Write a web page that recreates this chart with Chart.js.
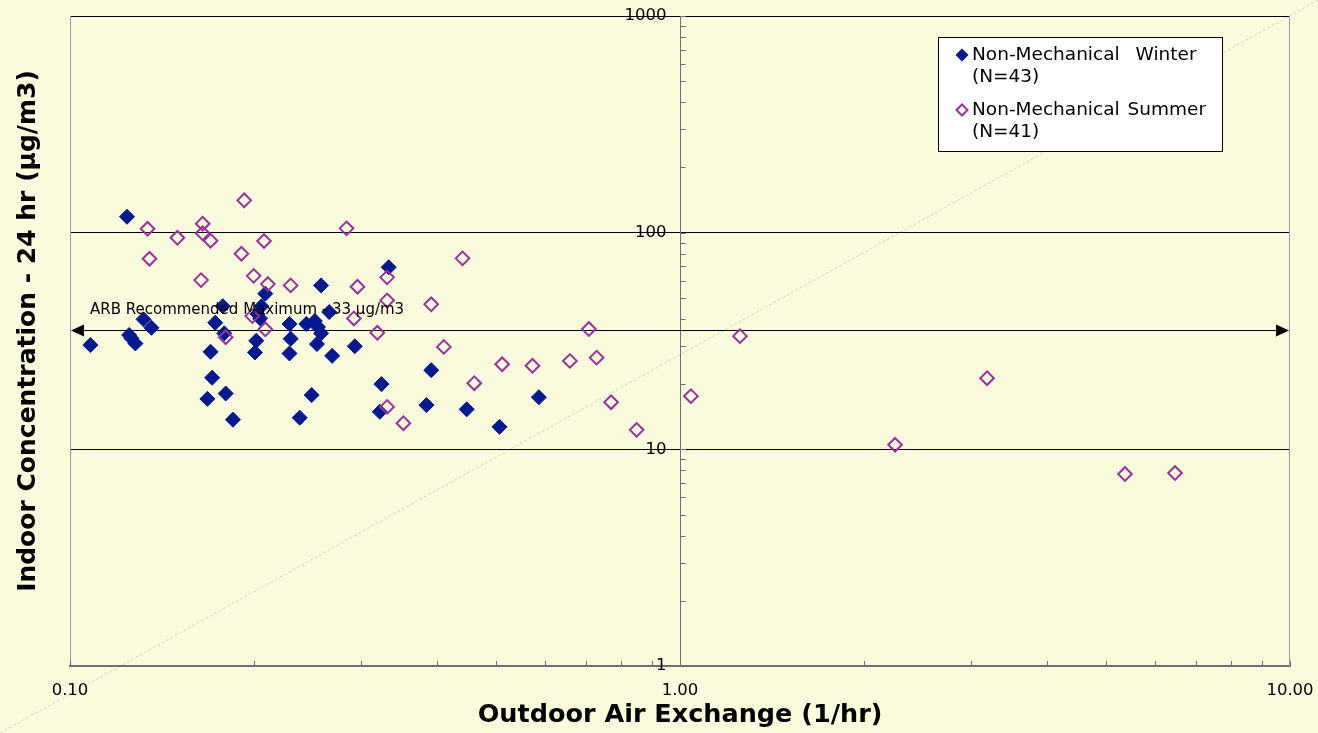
<!DOCTYPE html>
<html>
<head>
<meta charset="utf-8">
<script src="https://cdn.jsdelivr.net/npm/chart.js@4/dist/chart.umd.min.js"></script>
<style>
  html, body { margin: 0; padding: 0; background: #FAFADC; }
</style>
</head>
<body>
<canvas id="chart" width="1318" height="733"></canvas>
<script>
// values
var winterX = [0.108, 0.124, 0.132, 0.136, 0.125, 0.128, 0.126, 0.178, 0.173, 0.179, 0.170,
  0.171, 0.168, 0.180, 0.185, 0.209, 0.206, 0.205, 0.203, 0.202, 0.201, 0.333, 0.258,
  0.266, 0.229, 0.244, 0.252, 0.255, 0.258, 0.230, 0.254, 0.229, 0.269, 0.293, 0.391,
  0.324, 0.249, 0.384, 0.322, 0.238, 0.447, 0.506, 0.587];
var winterY = [30.3, 118.4, 39.8, 36.4, 33.7, 30.8, 32.6, 45.8, 38.4, 34.3, 28.2,
  21.4, 17.1, 18.1, 13.7, 52.3, 45.7, 40.2, 42.1, 31.7, 28.0, 69.2, 57.1,
  43.0, 37.9, 37.9, 39.1, 36.7, 34.3, 32.4, 30.6, 27.7, 27.0, 29.9, 23.2,
  20.0, 17.8, 16.0, 14.9, 14.0, 15.3, 12.7, 17.4];

var summerX = [0.193, 0.134, 0.165, 0.165, 0.170, 0.150, 0.208, 0.191, 0.135, 0.164,
  0.200, 0.211, 0.199, 0.209, 0.180, 0.284, 0.440, 0.331, 0.230, 0.296, 0.331, 0.391,
  0.292, 0.319, 0.410, 0.331, 0.352, 0.709, 0.511, 0.573, 0.660, 0.730, 0.460, 0.771,
  0.849, 1.042, 1.254, 2.252, 3.187, 5.364, 6.479];
var summerY = [141, 104.2, 110, 99.3, 91.8, 94.7, 91.5, 79.9, 75.8, 60.4,
  63.2, 57.9, 41.2, 35.8, 32.9, 104.7, 76.1, 62.2, 57.1, 56.3, 48.7, 46.7,
  40.2, 34.5, 29.7, 15.7, 13.2, 35.9, 24.7, 24.3, 25.6, 26.5, 20.2, 16.5,
  12.3, 17.6, 33.3, 10.5, 21.3, 7.69, 7.77];

var seriesNames = [['Non-Mechanical Winter', '(N=43)'], ['Non-Mechanical Summer', '(N=41)']];
var seriesColors = ['#03198F', '#99309F'];

var xTicks = [0.1, 1, 10];
var yTicks = [1, 10, 100, 1000];
var arbLevel = 35.5;
var arbLabel = 'ARB Recommended Maximum - 33 \u00b5g/m3';
var xTitle = 'Outdoor Air Exchange (1/hr)';
var yTitle = 'Indoor Concentration - 24 hr (\u00b5g/m3)';

function toPoints(xs, ys) {
  var pts = [];
  for (var i = 0; i < xs.length; i++) pts.push({ x: xs[i], y: ys[i] });
  return pts;
}

function diamond(ctx, x, y, r) {
  ctx.beginPath();
  ctx.moveTo(x, y - r);
  ctx.lineTo(x + r, y);
  ctx.lineTo(x, y + r);
  ctx.lineTo(x - r, y);
  ctx.closePath();
}

var decor = {
  id: 'decor',
  beforeDraw: function (chart) {
    var ctx = chart.ctx;
    ctx.save();
    ctx.fillStyle = '#FAFADC';
    ctx.fillRect(0, 0, chart.width, chart.height);
    // faint corner-to-corner dotted line
    ctx.strokeStyle = '#DCD3CB';
    ctx.lineWidth = 1;
    ctx.setLineDash([3, 2]);
    ctx.beginPath();
    ctx.moveTo(0, chart.height);
    ctx.lineTo(chart.width, 0);
    ctx.stroke();
    ctx.restore();
  },
  beforeDatasetsDraw: function (chart) {
    var ctx = chart.ctx, a = chart.chartArea;
    var xs = chart.scales.x, ys = chart.scales.y;
    ctx.save();
    ctx.strokeStyle = '#9A9A9A';
    ctx.lineWidth = 1;
    ctx.beginPath();
    ctx.moveTo(a.left + 0.5, a.top);
    ctx.lineTo(a.left + 0.5, a.bottom);
    ctx.moveTo(a.right - 0.5, a.top);
    ctx.lineTo(a.right - 0.5, a.bottom);
    ctx.stroke();

    // minor ticks
    ctx.strokeStyle = '#6E6E6E';
    ctx.beginPath();
    var axisX = Math.round(xs.getPixelForValue(1)) + 0.5;
    [0.1, 1].forEach(function (d) {
      for (var m = 1; m <= 10; m++) {
        var px = Math.round(xs.getPixelForValue(d * m)) + 0.5;
        ctx.moveTo(px, a.bottom);
        ctx.lineTo(px, a.bottom - 5);
      }
    });
    [1, 10, 100].forEach(function (d) {
      for (var m = 1; m <= 10; m++) {
        var py = Math.round(ys.getPixelForValue(d * m)) + 0.5;
        ctx.moveTo(axisX, py);
        ctx.lineTo(axisX + 5, py);
      }
    });
    ctx.stroke();

    // y tick labels, left of the axis at x = 1
    ctx.fillStyle = '#000';
    ctx.font = '16.5px "DejaVu Sans"';
    ctx.textAlign = 'right';
    ctx.textBaseline = 'middle';
    ys.ticks.forEach(function (t) {
      ctx.fillText(String(t.value), axisX - 14, ys.getPixelForValue(t.value));
    });

    // ARB double arrow
    var y = Math.round(ys.getPixelForValue(arbLevel)) + 0.5;
    ctx.strokeStyle = '#000';
    ctx.beginPath();
    ctx.moveTo(a.left + 10, y);
    ctx.lineTo(a.right - 10, y);
    ctx.stroke();
    ctx.beginPath();
    ctx.moveTo(a.left + 1, y);
    ctx.lineTo(a.left + 14, y - 6);
    ctx.lineTo(a.left + 14, y + 6);
    ctx.closePath();
    ctx.fill();
    ctx.beginPath();
    ctx.moveTo(a.right - 1, y);
    ctx.lineTo(a.right - 14, y - 6);
    ctx.lineTo(a.right - 14, y + 6);
    ctx.closePath();
    ctx.fill();
    ctx.restore();
  },
  afterDatasetsDraw: function (chart) {
    var ctx = chart.ctx, a = chart.chartArea;
    var y = chart.scales.y.getPixelForValue(arbLevel);
    ctx.save();
    ctx.fillStyle = '#000';
    ctx.font = '15px "DejaVu Sans"';
    ctx.textBaseline = 'middle';
    ctx.textAlign = 'left';
    ctx.fillText(arbLabel, a.left + 20, y - 20);

    // axis titles
    ctx.font = 'bold 25.5px "DejaVu Sans"';
    ctx.textAlign = 'center';
    ctx.fillText(xTitle, (a.left + a.right) / 2, 715);
    ctx.font = 'bold 25px "DejaVu Sans"';
    ctx.translate(28, 331);
    ctx.rotate(-Math.PI / 2);
    ctx.fillText(yTitle, 0, 0);
    ctx.restore();

    // legend box
    ctx.save();
    var bx = a.right - 352, by = a.top + 21, bw = 284, bh = 114;
    ctx.fillStyle = '#FFFFFF';
    ctx.fillRect(bx, by, bw, bh);
    ctx.strokeStyle = '#000';
    ctx.lineWidth = 1;
    ctx.strokeRect(bx + 0.5, by + 0.5, bw, bh);
    ctx.font = '18.5px "DejaVu Sans"';
    ctx.textBaseline = 'middle';
    ctx.textAlign = 'left';
    for (var i = 0; i < seriesNames.length; i++) {
      var ly = by + 18 + i * 55;
      if (i === 0) {
        diamond(ctx, bx + 24, ly, 6.5);
        ctx.fillStyle = seriesColors[0];
        ctx.fill();
      } else {
        ctx.strokeStyle = seriesColors[1];
        ctx.lineWidth = 2;
        diamond(ctx, bx + 24, ly, 5.5);
        ctx.stroke();
      }
      ctx.fillStyle = '#000';
      ctx.wordSpacing = i === 0 ? '10px' : '2px';
      ctx.fillText(seriesNames[i][0], bx + 34, ly);
      ctx.wordSpacing = '0px';
      ctx.fillText(seriesNames[i][1], bx + 34, ly + 22);
    }
    ctx.restore();
  }
};

var ctx = document.getElementById('chart').getContext('2d');
var myChart = new Chart(ctx, {
  type: 'scatter',
  data: {
    datasets: [{
      label: seriesNames[0].join(' '),
      data: toPoints(winterX, winterY),
      pointStyle: 'rectRot',
      pointRadius: 7.5,
      backgroundColor: seriesColors[0],
      borderColor: seriesColors[0],
      borderWidth: 1,
      order: 2
    }, {
      label: seriesNames[1].join(' '),
      data: toPoints(summerX, summerY),
      pointStyle: 'rectRot',
      pointRadius: 6.8,
      backgroundColor: 'rgba(0,0,0,0)',
      borderColor: seriesColors[1],
      borderWidth: 2,
      order: 1
    }]
  },
  options: {
    responsive: false,
    animation: false,
    layout: { padding: { left: 70, right: 28, top: 16, bottom: 0 } },
    plugins: {
      legend: { display: false },
      tooltip: { enabled: false }
    },
    scales: {
      x: {
        type: 'logarithmic',
        min: 0.1,
        max: 10,
        position: 'bottom',
        afterBuildTicks: function (scale) {
          scale.ticks = xTicks.map(function (v) { return { value: v }; });
        },
        afterFit: function (scale) {
          scale.height = 67;
          scale.paddingLeft = 0;
          scale.paddingRight = 0;
        },
        grid: { color: 'rgba(0,0,0,0)', drawTicks: false },
        border: { display: true, color: '#707070', width: 2 },
        ticks: {
          padding: 15,
          color: '#000',
          font: { family: 'DejaVu Sans', size: 16.5 },
          maxRotation: 0,
          callback: function (v) { return Number(v).toFixed(2); }
        }
      },
      y: {
        type: 'logarithmic',
        min: 1,
        max: 1000,
        position: { x: 1 },
        afterBuildTicks: function (scale) {
          scale.ticks = yTicks.map(function (v) { return { value: v }; });
        },
        afterFit: function (scale) {
          scale.paddingTop = 0;
          scale.paddingBottom = 0;
        },
        grid: {
          color: function (c) { return c.tick && c.tick.value === 1 ? 'rgba(0,0,0,0)' : '#000'; },
          drawTicks: false
        },
        border: { display: true, color: '#707070', width: 1 },
        ticks: { display: false }
      }
    }
  },
  plugins: [decor]
});
</script>
</body>
</html>
